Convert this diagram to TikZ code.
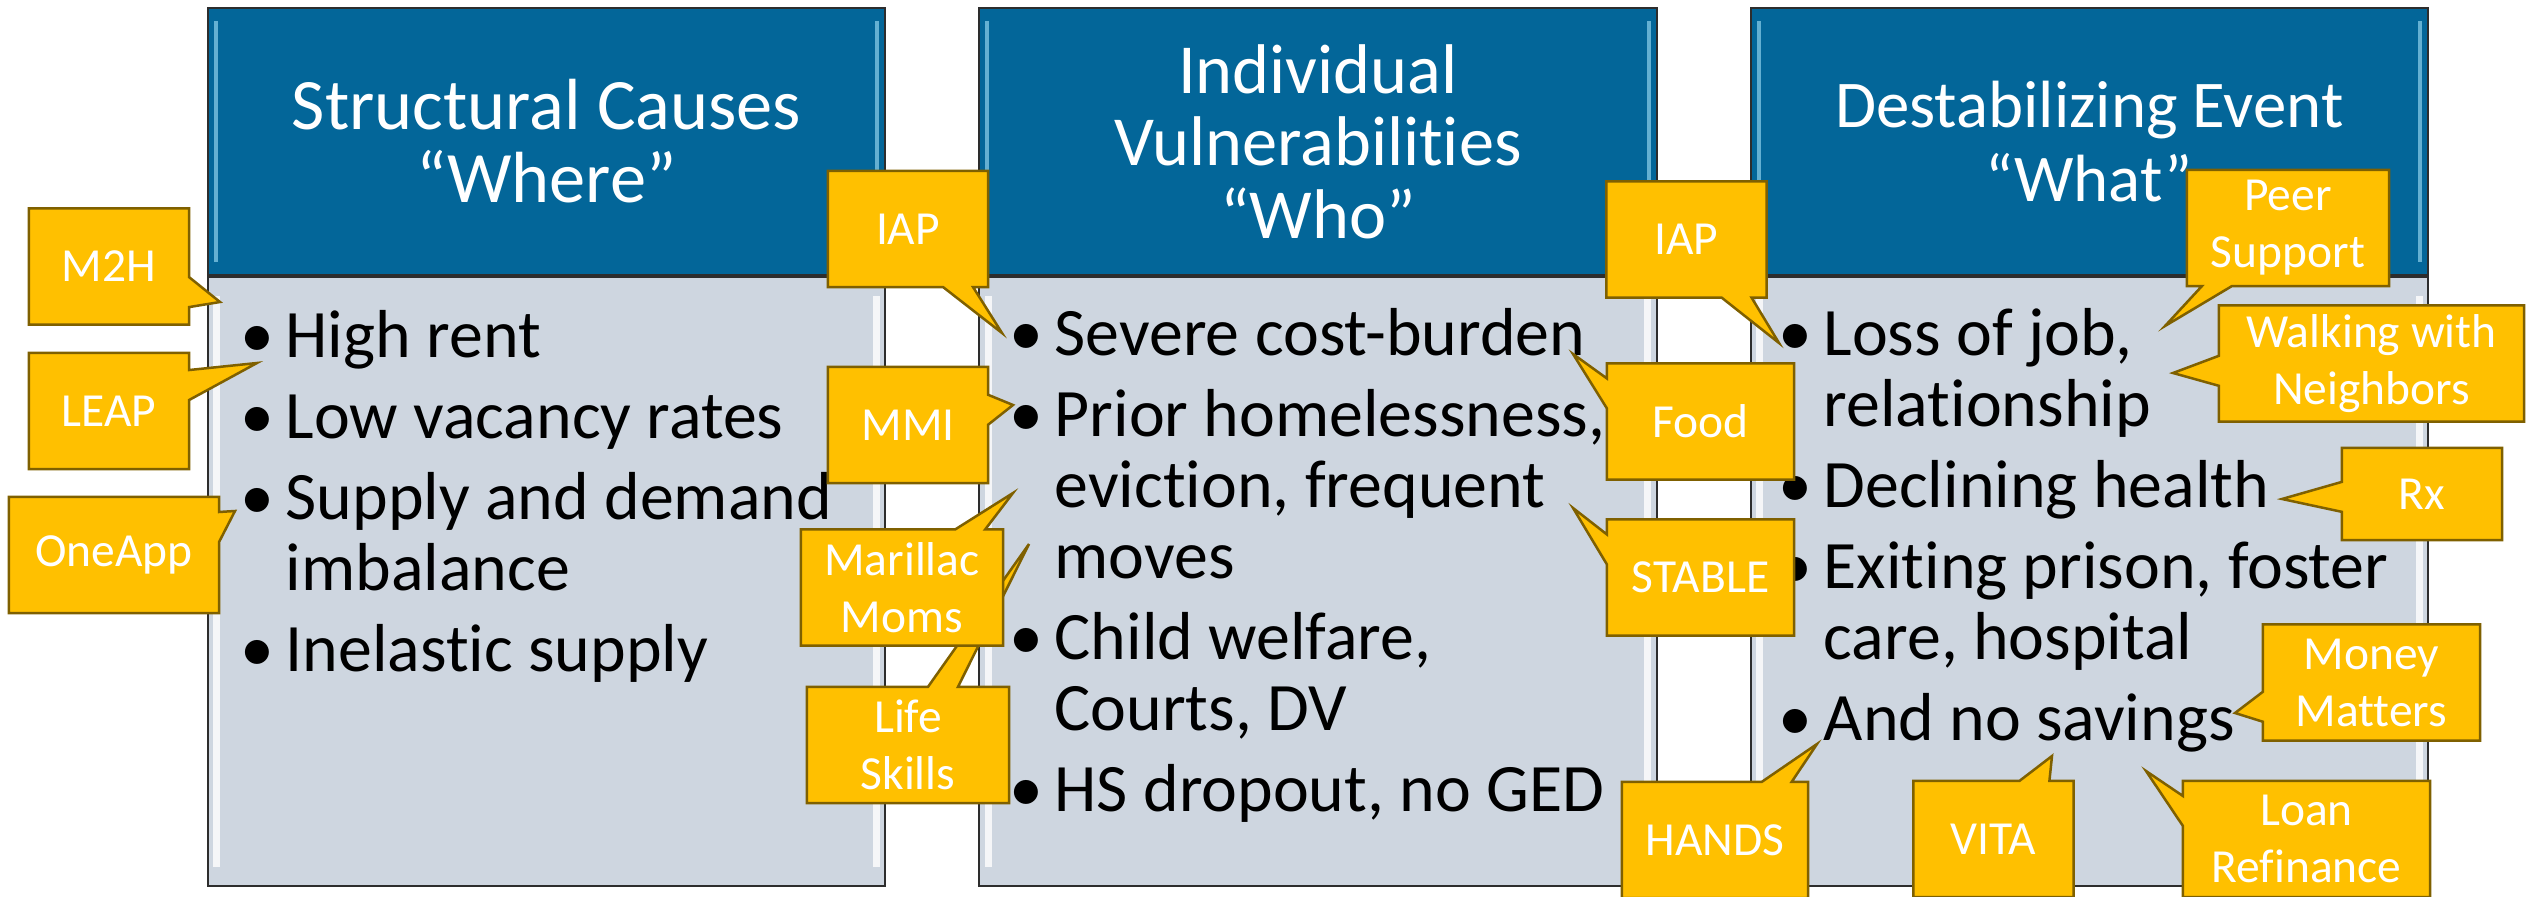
\documentclass[tikz,border=0pt]{standalone}
\usepackage{fontspec}
\setmainfont{Carlito}[Ligatures=NoCommon]
\usetikzlibrary{positioning,shapes.callouts}

\definecolor{hdrblue}{RGB}{3,102,153}
\definecolor{bodygray}{RGB}{206,214,224}
\definecolor{tagfill}{RGB}{255,192,0}
\definecolor{tagedge}{RGB}{127,96,0}
\definecolor{coledge}{RGB}{45,45,45}

\tikzset{
    hdr/.style={
        draw=coledge, fill=hdrblue, line width=0.02cm,
        minimum width=6.77cm, minimum height=2.67cm,
        text=white, align=center, inner sep=0pt
    },
    colbody/.style={
        draw=coledge, fill=bodygray, line width=0.02cm,
        minimum width=6.77cm, minimum height=6.09cm, inner sep=0pt
    },
    bullets/.style={
        text width=6.4cm, inner sep=0pt, anchor=base west,
        font=\fontsize{19.3}{20.2}\selectfont
    },
    tag/.style={
        rectangle callout, fill=tagfill, draw=tagedge, line width=0.025cm,
        callout pointer width=0.3cm,
        minimum width=1.6cm, minimum height=1.16cm, inner sep=0pt,
        text=white, align=center,
        font=\fontsize{13.5}{16.2}\selectfont
    },
    hdrshine/.style={draw=cyan!35!white, line width=0.04cm, opacity=0.6},
    bodyshine/.style={draw=white, line width=0.07cm, opacity=0.8}
}
\newcommand{\listsetup}{\raggedright\spaceskip=0pt\xspaceskip=0pt\parskip=0.1cm\relax}
\newcommand{\bullitem}[1]{\hangindent=0.45cm\hangafter=1\makebox[0.45cm][l]{•}#1\par}

\begin{document}
\begin{tikzpicture}[x=0.01cm, y=-0.01cm]
\useasboundingbox (0,0) rectangle (2526,897);

% Column heads
\node[hdr, font=\fontsize{20.6}{20.8}\selectfont] (whereH) at (546.5,141.5) {Structural Causes\\“Where”};
\node[hdr, right=0.92cm of whereH, font=\fontsize{20}{20.6}\selectfont] (whoH) {Individual\\Vulnerabilities\\“Who”};
\node[hdr, right=0.92cm of whoH, font=\fontsize{19}{20.8}\selectfont] (whatH) {Destabilizing Event\\“What”};

% Column bodies
\node[colbody, below=0cm of whereH] (whereB) {};
\node[colbody, below=0cm of whoH] (whoB) {};
\node[colbody, below=0cm of whatH] (whatB) {};

% bevel highlights
\foreach \col in {where,who,what}{
    \draw[hdrshine] ([shift={(9,14)}]\col H.north west) -- ([shift={(9,-14)}]\col H.south west);
    \draw[hdrshine] ([shift={(-9,14)}]\col H.north east) -- ([shift={(-9,-14)}]\col H.south east);
    \draw[bodyshine] ([shift={(10,20)}]\col B.north west) -- ([shift={(10,-20)}]\col B.south west);
    \draw[bodyshine] ([shift={(-10,20)}]\col B.north east) -- ([shift={(-10,-20)}]\col B.south east);
}

% Bullet lists
\node[bullets] (whereT) at (240,357) {\listsetup
    \bullitem{High rent}
    \bullitem{Low vacancy rates}
    \bullitem{Supply and demand\newline imbalance}
    \bullitem{Inelastic supply}};
\node[bullets] (whoT) at (1009,355) {\listsetup
    \bullitem{Severe cost-burden}
    \bullitem{Prior homelessness,\newline eviction, frequent\newline moves}
    \bullitem{Child welfare,\newline Courts, DV}
    \bullitem{HS dropout, no GED}};
\node[bullets] (whatT) at (1778,355) {\listsetup
    \bullitem{Loss of job,\newline relationship}
    \bullitem{Declining health}
    \bullitem{Exiting prison, foster\newline care, hospital}
    \bullitem{And no savings}};

% Programme callouts
\node[tag, callout absolute pointer={(220,302)}] (m2h) at (109,266.5) {M2H};
\node[tag, callout absolute pointer={(257,363)}] (leap) at (109,411) {LEAP};
\node[tag, minimum width=2.1cm, callout absolute pointer={(235,511)}] (oneapp) at (114,555) {OneApp};

\node[tag, callout absolute pointer={(1002,333)}] (iapwho) at (908,229) {IAP};
\node[tag, callout absolute pointer={(1013,405)}] (mmi) at (908,425) {MMI};
\node[tag, minimum width=2.02cm, callout absolute pointer={(1029,544)}] (skills) at (908,745) {Life\\Skills};
\node[tag, minimum width=2.02cm, callout absolute pointer={(1013,493)}] (marillac) at (902,587.5) {Marillac\\Moms};

\node[tag, callout absolute pointer={(1779,343)}] (iapwhat) at (1686.5,239.5) {IAP};
\node[tag, minimum width=1.87cm, callout absolute pointer={(1573,354)}] (food) at (1700.5,421.5) {Food};
\node[tag, minimum width=1.87cm, callout absolute pointer={(1573,508)}] (stable) at (1700.5,577.5) {STABLE};
\node[tag, minimum width=1.86cm, callout absolute pointer={(1817,744)}] (hands) at (1715,840) {HANDS};
\node[tag, callout absolute pointer={(2052,756)}] (vita) at (1993.5,839) {VITA};
\node[tag, minimum width=2.47cm, callout absolute pointer={(2146,771)}] (loan) at (2306.5,839) {Loan\\Refinance};
\node[tag, minimum width=2.17cm, callout absolute pointer={(2235,713)}] (money) at (2371.5,682.5) {Money\\Matters};
\node[tag, minimum height=0.92cm, callout absolute pointer={(2282,499)}] (rx) at (2422,494) {Rx};
\node[tag, minimum width=2.02cm, callout absolute pointer={(2165,326)}] (peer) at (2288,228) {Peer\\Support};
\node[tag, minimum width=3.05cm, callout absolute pointer={(2173,373)}] (walking) at (2371.5,363.5) {Walking with\\Neighbors};

\end{tikzpicture}
\end{document}
